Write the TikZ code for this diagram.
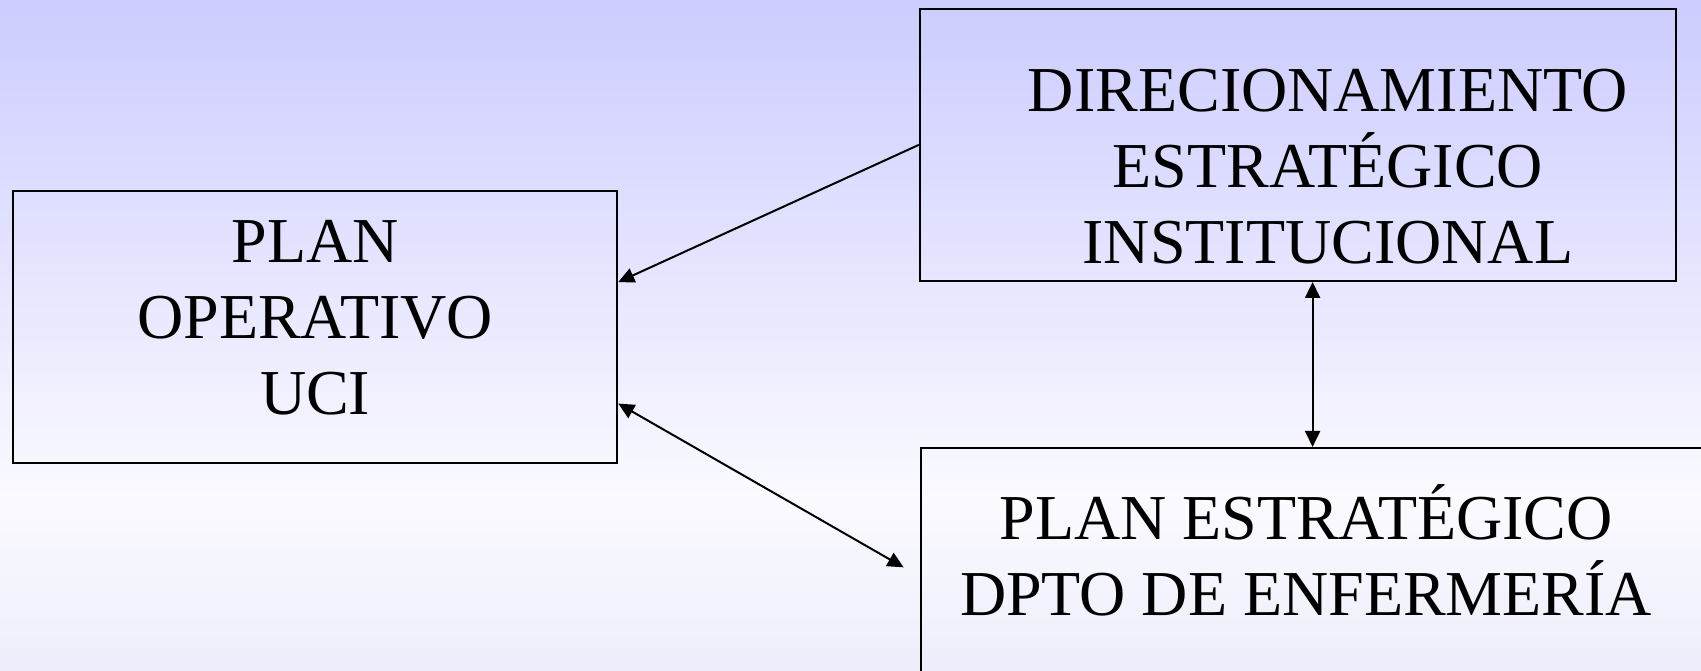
\documentclass[tikz,border=0pt]{standalone}
\usepackage{fontspec}
\setmainfont{Liberation Serif}
\usetikzlibrary{arrows.meta}
\definecolor{lilaalto}{RGB}{204,204,255}
\definecolor{lilaclaro}{RGB}{250,250,255}
\definecolor{lilabajo}{RGB}{238,238,252}
\pgfdeclareverticalshading{fondo}{100bp}{color(0bp)=(lilabajo); color(25bp)=(lilabajo); color(38bp)=(lilaclaro); color(75bp)=(lilaalto); color(100bp)=(lilaalto)}

\begin{document}
\begin{tikzpicture}[x=1.0848pt,y=-1.0848pt,
  caja/.style={draw, line width=2pt, inner sep=0pt},
  texto/.style={align=center, font=\fontsize{64}{76}\selectfont, inner sep=0pt},
  flecha/.style={line width=2pt, -{Triangle[length=16pt,width=15pt]}},
  doble/.style={line width=2pt, {Triangle[length=16pt,width=15pt]}-{Triangle[length=16pt,width=15pt]}}]
\useasboundingbox (0,0) rectangle (1568,618.5);
\clip (0,0) rectangle (1568,618.5);
\fill[shading=fondo] (0,0) rectangle (1568,618.5);

\node[caja, minimum width=604.2pt, minimum height=272.3pt] (plan) at (290.5,301.5) {};
\node[caja, minimum width=756.1pt, minimum height=272.3pt] (dir) at (1196.5,133.5) {};
\node[caja, minimum width=976pt, minimum height=325pt, anchor=north west] (enf) at (848,412) {};

\node[texto] (plan-txt) at (290.5,292.5) {PLAN\\OPERATIVO\\UCI};
\node[texto] (dir-txt) at (1224,153.5) {DIRECIONAMIENTO\\ESTRAT\'EGICO\\INSTITUCIONAL};
\node[texto] (enf-txt) at (1204,507) {PLAN ESTRAT\'EGICO\\DPTO DE ENFERMER\'IA};

\coordinate (enf-in) at ([xshift=-16.3pt,yshift=-120.4pt]enf.north west);

\draw[flecha] (dir.west) -- ([yshift=45pt]plan.east);
\draw[doble] ([yshift=-76.5pt]plan.east) -- (enf-in);
\draw[doble] ([xshift=14.6pt]dir.south) -- ([xshift=14.6pt]dir.south |- enf.north);
\end{tikzpicture}
\end{document}
